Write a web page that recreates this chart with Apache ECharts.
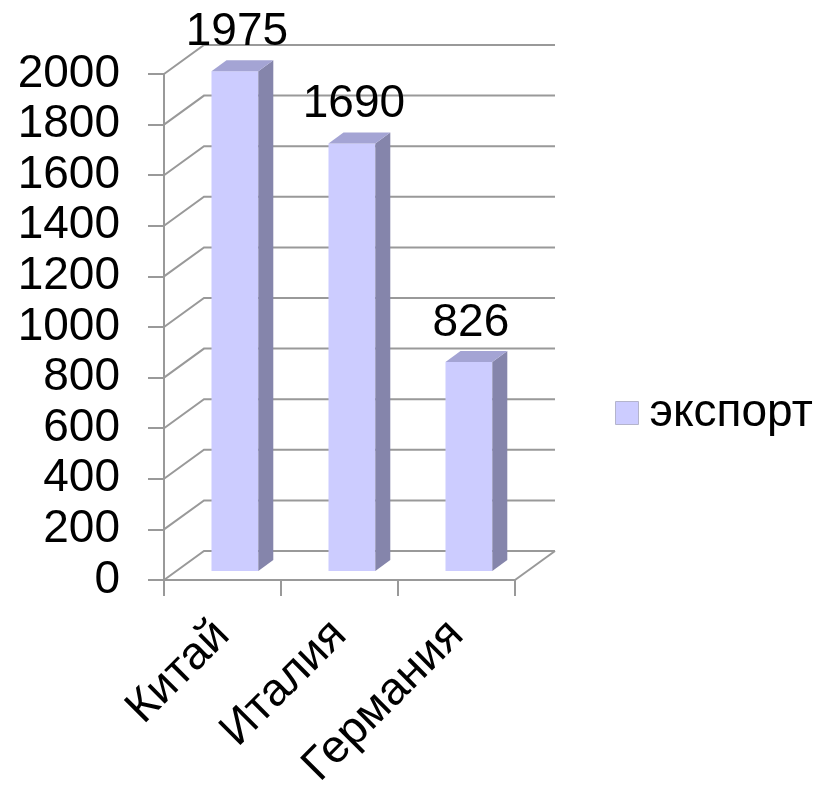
<!DOCTYPE html>
<html>
<head>
<meta charset="utf-8">
<script src="https://cdn.jsdelivr.net/npm/echarts@6/dist/echarts.min.js"></script>
<style>
  html, body { margin: 0; padding: 0; background: #fff; }
  #chart { width: 821px; height: 793px; }
</style>
</head>
<body>
<div id="chart"></div>
<script>
const categories = ['Китай', 'Италия', 'Германия'];
const exportValues = [1975, 1690, 826];
const gridValues = [0, 200, 400, 600, 800, 1000, 1200, 1400, 1600, 1800, 2000];

// depth of the fake 3D box, in pixels
const DEPTH_X = 40;
const DEPTH_Y = 29;
const LINE = '#999999';
const FONT = '"Liberation Sans", Arial, sans-serif';

const chart = echarts.init(document.getElementById('chart'));

function renderWall(params, api) {
  const v = api.value(0);
  const band = api.size([1, 0])[0];
  const p0 = api.coord([0, v]);
  const p2 = api.coord([categories.length - 1, v]);
  const x0 = p0[0] - band / 2;
  const x1 = p2[0] + band / 2;
  const y = p0[1];
  const children = [{
    type: 'polyline',
    shape: { points: [[x0, y], [x0 + DEPTH_X, y - DEPTH_Y], [x1 + DEPTH_X, y - DEPTH_Y]] },
    style: { stroke: LINE, lineWidth: 2, fill: null }
  }];
  if (v === 0) {
    children.push({
      type: 'line',
      shape: { x1: x1, y1: y, x2: x1 + DEPTH_X, y2: y - DEPTH_Y },
      style: { stroke: LINE, lineWidth: 2 }
    });
  }
  return { type: 'group', children: children };
}

function renderBar(params, api) {
  const i = api.value(0);
  const v = api.value(1);
  const base = api.coord([i, 0]);
  const top = api.coord([i, v]);
  const band = api.size([1, 0])[0];
  const w = band * 0.4;
  const fx = DEPTH_X * 0.31, fy = DEPTH_Y * 0.31;
  const bx = DEPTH_X * 0.375, by = DEPTH_Y * 0.38;
  const xl = base[0] + fx - w / 2;
  const xr = xl + w;
  const yb = base[1] - fy;
  const yt = top[1] - fy;
  return {
    type: 'group',
    children: [
      { type: 'rect', shape: { x: xl, y: yt, width: w, height: yb - yt }, style: { fill: '#ccccff' } },
      { type: 'polygon', shape: { points: [[xr, yt], [xr + bx, yt - by], [xr + bx, yb - by], [xr, yb]] }, style: { fill: '#8585ab' } },
      { type: 'polygon', shape: { points: [[xl, yt], [xl + bx, yt - by], [xr + bx, yt - by], [xr, yt]] }, style: { fill: '#a4a4d4' } },
      {
        type: 'text',
        style: {
          text: String(v), x: (xl + xr) / 2 + 2, y: yt - by - 5,
          align: 'center', verticalAlign: 'bottom',
          fontSize: 46, fontFamily: FONT, fill: '#000'
        }
      }
    ]
  };
}

chart.setOption({
  animation: false,
  grid: { left: 164, right: 306, top: 74, bottom: 213 },
  legend: {
    data: ['экспорт'],
    orient: 'vertical',
    left: 610,
    top: 385,
    icon: 'rect',
    itemWidth: 23,
    itemHeight: 23,
    itemStyle: { borderColor: '#b4b4cc', borderWidth: 1 },
    textStyle: { fontSize: 46, fontFamily: FONT, color: '#000', padding: [0, 0, 0, 6] }
  },
  xAxis: {
    type: 'category',
    data: categories,
    boundaryGap: true,
    axisLine: { show: true, lineStyle: { color: LINE, width: 2 } },
    axisTick: { show: true, length: 16, lineStyle: { color: LINE, width: 2 } },
    axisLabel: { rotate: 45, margin: 48, fontSize: 46, fontFamily: FONT, color: '#000' },
    splitLine: { show: false }
  },
  yAxis: {
    type: 'value',
    min: 0,
    max: 2000,
    interval: 200,
    axisLine: { show: true, lineStyle: { color: LINE, width: 2 } },
    axisTick: { show: true, length: 16, lineStyle: { color: LINE, width: 2 } },
    axisLabel: { margin: 44, fontSize: 46, fontFamily: FONT, color: '#000', formatter: v => String(v) },
    splitLine: { show: false }
  },
  series: [
    {
      name: 'wall',
      type: 'custom',
      silent: true,
      z: 1,
      renderItem: renderWall,
      encode: { y: 0 },
      data: gridValues.map(v => [v])
    },
    {
      name: 'экспорт',
      type: 'custom',
      z: 3,
      itemStyle: { color: '#ccccff' },
      renderItem: renderBar,
      encode: { x: 0, y: 1 },
      data: exportValues.map((v, i) => [i, v])
    }
  ]
});
</script>
</body>
</html>
